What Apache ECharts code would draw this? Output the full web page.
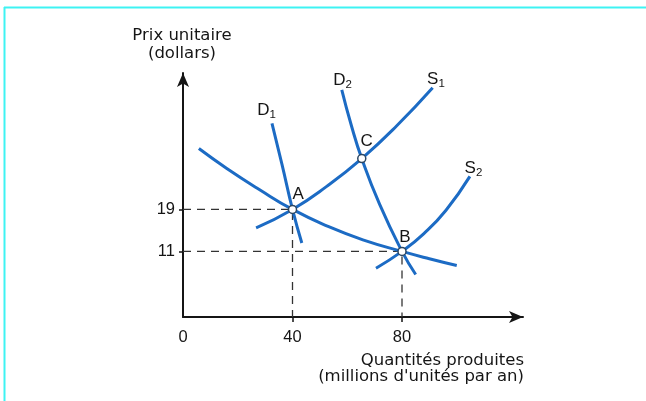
<!DOCTYPE html>
<html>
<head>
<meta charset="utf-8">
<script src="https://cdn.jsdelivr.net/npm/echarts@6/dist/echarts.min.js"></script>
<style>
  html, body { margin: 0; padding: 0; background: #fff; }
  #chart { width: 646px; height: 401px; }
</style>
</head>
<body>
<div id="chart"></div>
<script>
// courbes (quantité en millions, prix en dollars)
const demandeLongue = [[5.8, 30.6], [16, 26.8], [28, 22.75], [40, 19], [53, 15.75], [66, 13.15], [80, 11], [90, 9.6], [100, 8.3]];
const demandeD1 = [[32.5, 35.4], [36.2, 27.5], [40, 19], [43.4, 12.6]];
const demandeD2 = [[58, 41.8], [61.5, 35], [65.3, 28.7], [71.8, 20], [80, 11], [85, 6.6]];
const offreS1 = [[26.7, 15.5], [40, 19], [52.5, 23.4], [65.3, 28.7], [78, 34.9], [91.2, 42.2]];
const offreS2 = [[70.5, 7.8], [80, 11], [88, 14.4], [96, 18.8], [104.8, 25.3]];

// équilibres
const equilibres = [[40, 19], [80, 11], [65.3, 28.7]];
const repereA = [[0, 19], [40, 19], [40, -1.5]];
const repereB = [[0, 11], [80, 11], [80, -1.5]];

// graduations
const xTicks = [40, 80];
const xLabels = [0, 40, 80];
const yTicks = [11, 19];

// étiquettes des courbes et des points
const etiquettes = [
  { name: 'D{s|1}', value: [30.5, 37.9] },
  { name: 'D{s|2}', value: [58.3, 43.6] },
  { name: 'S{s|1}', value: [92.4, 43.8] },
  { name: 'S{s|2}', value: [106.1, 26.8] },
  { name: 'A', value: [42.1, 21.9] },
  { name: 'B', value: [81.1, 13.6] },
  { name: 'C', value: [67.1, 32.0] }
];

const bleu = '#1c6bc4';
const encre = '#151515';
const chiffres = 'Liberation Sans, Arial, sans-serif';
const titres = 'DejaVu Sans, sans-serif';

const chart = echarts.init(document.getElementById('chart'));

const courbe = (data) => ({
  type: 'line',
  data: data,
  smooth: 0.5,
  symbol: 'none',
  z: 3,
  lineStyle: { color: bleu, width: 3 }
});

const pointille = (data) => ({
  type: 'line',
  data: data,
  symbol: 'none',
  z: 2,
  lineStyle: { color: '#333', width: 1.3, type: [8, 6] }
});

chart.setOption({
  animation: false,
  backgroundColor: '#fff',
  grid: { left: 183, right: 123, top: 73, bottom: 84 },
  xAxis: {
    type: 'value',
    min: 0,
    max: 124.2,
    splitLine: { show: false },
    axisLine: {
      onZero: false,
      symbol: ['none', 'arrow'],
      symbolSize: [9, 14],
      lineStyle: { color: encre, width: 2 }
    },
    axisTick: { show: true, customValues: xTicks, length: 5, lineStyle: { color: encre, width: 1.5 } },
    axisLabel: { customValues: xLabels, margin: 12, fontSize: 16.5, color: encre, fontFamily: chiffres }
  },
  yAxis: {
    type: 'value',
    min: -1.5,
    max: 45,
    splitLine: { show: false },
    axisLine: {
      onZero: false,
      symbol: ['none', 'arrow'],
      symbolSize: [9, 14],
      lineStyle: { color: encre, width: 2 }
    },
    axisTick: { show: true, customValues: yTicks, length: 4, lineStyle: { color: encre, width: 1.5 } },
    axisLabel: { customValues: yTicks, margin: 8, fontSize: 16.5, color: encre, fontFamily: chiffres }
  },
  graphic: [
    { type: 'line', shape: { x1: 4, y1: 7.5, x2: 646, y2: 7.5 }, style: { stroke: '#3ef3f3', lineWidth: 2 } },
    { type: 'line', shape: { x1: 4.5, y1: 7, x2: 4.5, y2: 401 }, style: { stroke: '#3ef3f3', lineWidth: 2 } },
    { type: 'text', x: 182, y: 36, style: { text: 'Prix unitaire', font: '16.5px ' + titres, fill: encre, textAlign: 'center', textVerticalAlign: 'middle' } },
    { type: 'text', x: 182, y: 54, style: { text: '(dollars)', font: '16.5px ' + titres, fill: encre, textAlign: 'center', textVerticalAlign: 'middle' } },
    { type: 'text', x: 524, y: 361, style: { text: 'Quantités produites', font: '16.5px ' + titres, fill: encre, textAlign: 'right', textVerticalAlign: 'middle' } },
    { type: 'text', x: 524, y: 377, style: { text: "(millions d'unités par an)", font: '16.5px ' + titres, fill: encre, textAlign: 'right', textVerticalAlign: 'middle' } }
  ],
  series: [
    pointille(repereA),
    pointille(repereB),
    courbe(demandeLongue),
    courbe(demandeD1),
    courbe(demandeD2),
    courbe(offreS1),
    courbe(offreS2),
    {
      type: 'scatter',
      data: equilibres,
      symbolSize: 8,
      z: 5,
      itemStyle: { color: '#fff', borderColor: '#2c4763', borderWidth: 1.5, opacity: 1 }
    },
    {
      type: 'scatter',
      data: etiquettes,
      symbolSize: 0,
      z: 6,
      itemStyle: { opacity: 1 },
      label: {
        show: true,
        position: [0, 0],
        align: 'center',
        verticalAlign: 'middle',
        formatter: (p) => p.name,
        fontSize: 17,
        fontFamily: chiffres,
        color: encre,
        opacity: 1,
        textBorderWidth: 0,
        rich: {
          s: { fontSize: 11.5, fontFamily: chiffres, color: encre, padding: [9, 0, 0, 0] }
        }
      }
    }
  ]
});
</script>
</body>
</html>
